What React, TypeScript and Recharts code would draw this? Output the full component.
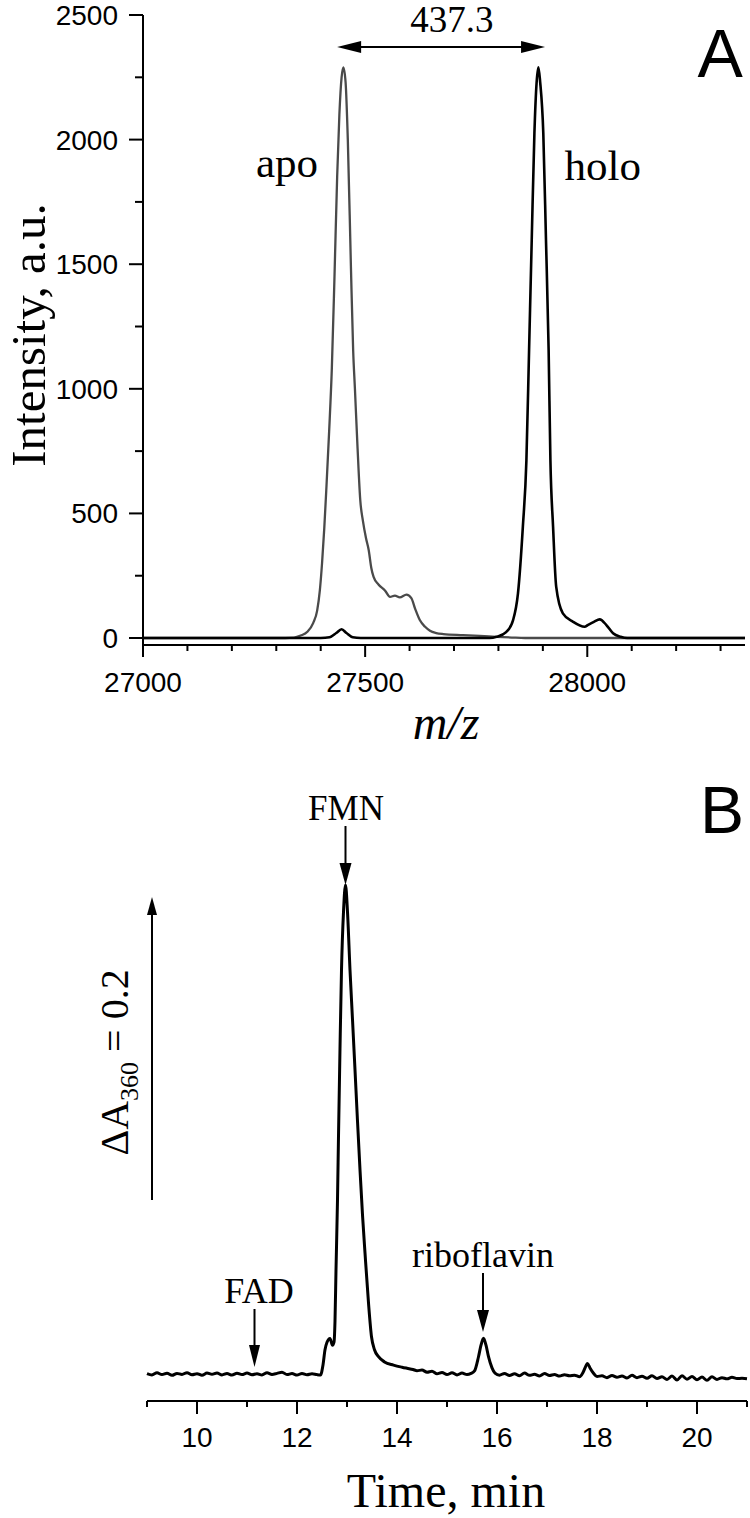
import { LineChart, Line, XAxis, YAxis, ReferenceLine, ReferenceDot } from 'recharts'

const serif = '"Liberation Serif", "Times New Roman", serif'
const sans = '"Liberation Sans", Arial, sans-serif'

// ---- Panel A: mass spectra ----
const apoMz = [27000, 27300, 27340, 27355, 27370, 27383, 27392, 27398, 27403, 27408, 27413, 27419, 27425, 27431, 27437, 27442, 27447, 27451, 27456, 27461, 27468, 27473, 27477, 27483, 27489, 27495, 27502, 27508, 27514, 27519, 27530, 27545, 27556, 27567, 27578, 27593, 27604, 27613, 27623, 27635, 27646, 27660, 27676, 27720, 27758, 27795, 27830, 27860, 28355]
const apoIntensity = [0, 0, 2, 10, 25, 60, 110, 190, 300, 440, 610, 830, 1080, 1450, 1850, 2100, 2250, 2290, 2230, 2000, 1490, 1156, 1000, 760, 554, 470, 400, 353, 280, 245, 215, 190, 165, 170, 163, 174, 160, 115, 72, 45, 29, 20, 16, 12, 9, 5, 2, 0, 0]

const holoMz = [27000, 27400, 27420, 27435, 27447, 27458, 27472, 27490, 27780, 27796, 27818, 27833, 27844, 27855, 27863, 27869, 27875, 27881, 27886, 27890, 27894, 27901, 27907, 27913, 27917, 27923, 27930, 27945, 27968, 27994, 28002, 28015, 28028, 28043, 28058, 28075, 28090, 28355]
const holoIntensity = [0, 0, 3, 20, 35, 20, 3, 0, 0, 5, 25, 72, 179, 447, 714, 1156, 1600, 2026, 2230, 2290, 2230, 2026, 1600, 1156, 714, 447, 206, 99, 65, 45, 53, 65, 75, 52, 19, 5, 0, 0]

const mzTicks = [27000, 27100, 27200, 27300, 27400, 27500, 27600, 27700, 27800, 27900, 28000, 28100, 28200, 28300]
const intensityTicks = [0, 250, 500, 750, 1000, 1250, 1500, 1750, 2000, 2250, 2500]

// ---- Panel B: HPLC trace ----
const timeMin = [9.0, 9.1, 9.2, 9.3, 9.4, 9.5, 9.6, 9.7, 9.8, 9.9, 10.0, 10.1, 10.2, 10.3, 10.4, 10.5, 10.6, 10.7, 10.8, 10.9, 11.0, 11.1, 11.2, 11.3, 11.4, 11.5, 11.6, 11.7, 11.8, 11.9, 12.0, 12.1, 12.2, 12.3, 12.4, 12.47, 12.52, 12.56, 12.6, 12.66, 12.71, 12.74, 12.76, 12.78, 12.81, 12.83, 12.86, 12.89, 12.93, 12.97, 13.01, 13.06, 13.11, 13.16, 13.21, 13.26, 13.31, 13.36, 13.43, 13.49, 13.55, 13.63, 13.75, 13.93, 14.1, 14.2, 14.32, 14.4, 14.5, 14.6, 14.7, 14.8, 14.9, 15.0, 15.1, 15.2, 15.3, 15.4, 15.48, 15.55, 15.63, 15.68, 15.73, 15.78, 15.83, 15.9, 15.96, 16.05, 16.15, 16.25, 16.35, 16.45, 16.55, 16.65, 16.75, 16.85, 16.95, 17.05, 17.15, 17.25, 17.35, 17.45, 17.55, 17.65, 17.72, 17.78, 17.81, 17.86, 17.93, 18.0, 18.1, 18.2, 18.3, 18.4, 18.5, 18.6, 18.7, 18.8, 18.9, 19.0, 19.1, 19.2, 19.3, 19.4, 19.5, 19.6, 19.7, 19.8, 19.9, 20.0, 20.1, 20.2, 20.3, 20.4, 20.5, 20.6, 20.7, 20.8, 20.9, 21.0]
const absorbance = [0.0003, -0.0006, 0.0008, -0.0004, 0.0005, -0.0009, 0.0004, -0.0003, 0.0009, -0.0005, 0.0002, -0.0008, 0.0006, -0.0002, 0.0007, -0.0006, 0.0003, -0.0007, 0.0005, -0.0004, 0.0006, -0.0005, 0.0002, -0.0006, 0.0008, -0.0003, 0.0004, 0.0012, -0.0004, 0.0003, -0.0007, 0.0004, -0.0005, 0.0002, -0.0004, -0.0006, 0.006, 0.016, 0.021, 0.0235, 0.019, 0.021, 0.035, 0.0686, 0.115, 0.157, 0.215, 0.2667, 0.305, 0.3228, 0.305, 0.2667, 0.234, 0.2007, 0.167, 0.1347, 0.105, 0.0799, 0.0469, 0.0246, 0.016, 0.0114, 0.008, 0.0059, 0.0045, 0.0038, 0.003, 0.0022, 0.0026, 0.0012, 0.0018, 0.0002, 0.001, -0.0004, 0.0008, -0.0006, 0.0006, -0.0003, 0.0004, 0.002, 0.0114, 0.019, 0.0236, 0.019, 0.0114, 0.004, 0.0005, -0.0008, 0.0004, -0.001, 0.0002, -0.0012, 0.0006, -0.0009, -0.0002, -0.0013, 0.0003, -0.001, -0.0004, -0.0014, -0.0005, -0.0012, -0.0008, -0.0018, 0.001, 0.0055, 0.007, 0.004, 0.0005, -0.0016, -0.0012, -0.0024, -0.001, -0.0022, -0.0013, -0.0026, -0.0009, -0.0024, -0.0015, -0.0028, -0.0012, -0.003, -0.0018, -0.0036, -0.0014, -0.004, -0.0012, -0.0034, -0.0016, -0.0038, -0.002, -0.0042, -0.0018, -0.0036, -0.0024, -0.0032, -0.0022, -0.003, -0.0028, -0.0031]

const timeTicks = [9, 10, 11, 12, 13, 14, 15, 16, 17, 18, 19, 20, 21]

const apoData = apoMz.map((mz, i) => ({ mz, v: apoIntensity[i] }))
const holoData = holoMz.map((mz, i) => ({ mz, v: holoIntensity[i] }))
const traceData = timeMin.map((t, i) => ({ t, a: absorbance[i] }))

// arrow drawn by ReferenceLine segments, heads as polygons
function makeArrow(opts: { start?: boolean; end?: boolean; len?: number; half?: number; extra?: (p: any) => any }) {
  const len = opts.len ?? 22
  const half = opts.half ?? 6
  return (p: any) => {
    const { x1, y1, x2, y2 } = p
    const L = Math.hypot(x2 - x1, y2 - y1) || 1
    const ux = (x2 - x1) / L
    const uy = (y2 - y1) / L
    const nx = -uy
    const ny = ux
    const head = (tx: number, ty: number, dx: number, dy: number) => {
      const bx = tx - dx * len
      const by = ty - dy * len
      return `${tx},${ty} ${bx + nx * half},${by + ny * half} ${bx - nx * half},${by - ny * half}`
    }
    const sx = opts.start ? x1 + ux * (len - 2) : x1
    const sy = opts.start ? y1 + uy * (len - 2) : y1
    const ex = opts.end ? x2 - ux * (len - 2) : x2
    const ey = opts.end ? y2 - uy * (len - 2) : y2
    return (
      <g>
        <line x1={sx} y1={sy} x2={ex} y2={ey} stroke="#000" strokeWidth={2} />
        {opts.end && <polygon points={head(x2, y2, ux, uy)} fill="#000" />}
        {opts.start && <polygon points={head(x1, y1, -ux, -uy)} fill="#000" />}
        {opts.extra && opts.extra(p)}
      </g>
    )
  }
}

const textAt = (label: string, font: string, size: number) => (p: any) => (
  <text x={p.cx} y={p.cy} textAnchor="middle" fontFamily={font} fontSize={size} fill="#000">
    {label}
  </text>
)

function MzTick(p: any) {
  const { x, y, payload } = p
  const major = payload.value % 500 === 0
  return (
    <g>
      <line x1={x} y1={y} x2={x} y2={y + (major ? 12 : 6)} stroke="#000" strokeWidth={2} />
      {major && (
        <text x={x} y={y + 47} textAnchor="middle" fontFamily={sans} fontSize={28} fill="#000">
          {payload.value}
        </text>
      )}
    </g>
  )
}

function IntensityTick(p: any) {
  const { x, y, payload } = p
  const major = payload.value % 500 === 0
  return (
    <g>
      <line x1={x} y1={y} x2={x - (major ? 14 : 8)} y2={y} stroke="#000" strokeWidth={2} />
      {major && (
        <text x={x - 25} y={y + 10} textAnchor="end" fontFamily={sans} fontSize={28} fill="#000">
          {payload.value}
        </text>
      )}
    </g>
  )
}

function TimeTick(p: any) {
  const { x, y, payload } = p
  const major = payload.value % 2 === 0
  return (
    <g>
      <line x1={x} y1={y} x2={x} y2={y + (major ? 13 : 6)} stroke="#000" strokeWidth={2} />
      {major && (
        <text x={x} y={y + 46} textAnchor="middle" fontFamily={sans} fontSize={28} fill="#000">
          {payload.value}
        </text>
      )}
    </g>
  )
}

const scaleBarLabel = (p: any) => {
  const midY = (p.y1 + p.y2) / 2
  return (
    <text transform={`translate(${p.x1 - 24}, ${midY + 14}) rotate(-90)`} textAnchor="middle" fontFamily={serif} fontSize={40} fill="#000">
      ΔA<tspan fontSize={26} dy={10}>360</tspan>
      <tspan dy={-10}>{' = 0.2'}</tspan>
    </text>
  )
}

export default function App() {
  return (
    <div style={{ position: 'absolute', left: 0, top: 0, width: 750, height: 1518, background: '#fff' }}>
      <LineChart width={750} height={760} margin={{ top: 15, right: 5, bottom: 0, left: 0 }}>
        <XAxis
          dataKey="mz"
          type="number"
          domain={[27000, 28355]}
          ticks={mzTicks}
          interval={0}
          height={115}
          tickSize={0}
          tickMargin={0}
          tickLine={false}
          tick={<MzTick />}
          axisLine={{ stroke: '#000', strokeWidth: 2 }}
          label={() => (
            <text x={446} y={739} textAnchor="middle" fontFamily={serif} fontStyle="italic" fontSize={48} fill="#000">
              m/z
            </text>
          )}
        />
        <YAxis
          type="number"
          domain={[-28, 2500]}
          ticks={intensityTicks}
          interval={0}
          width={143}
          tickSize={0}
          tickMargin={0}
          tickLine={false}
          tick={<IntensityTick />}
          axisLine={{ stroke: '#000', strokeWidth: 2 }}
          label={() => (
            <text transform="translate(45, 335) rotate(-90)" textAnchor="middle" fontFamily={serif} fontSize={49} fill="#000">
              Intensity, a.u.
            </text>
          )}
        />
        <Line data={apoData} dataKey="v" type="monotone" stroke="#4a4a4a" strokeWidth={2.3} dot={false} isAnimationActive={false} />
        <Line data={holoData} dataKey="v" type="monotone" stroke="#000" strokeWidth={2.6} dot={false} isAnimationActive={false} />
        <ReferenceLine segment={[{ x: 27437, y: 2372 }, { x: 27905, y: 2372 }]} shape={makeArrow({ start: true, end: true, len: 24, half: 6 })} />
        <ReferenceDot x={27695} y={2432} r={0} shape={textAt('437.3', serif, 37)} />
        <ReferenceDot x={27324} y={1850} r={0} shape={textAt('apo', serif, 43)} />
        <ReferenceDot x={28035} y={1838} r={0} shape={textAt('holo', serif, 43)} />
        <ReferenceDot x={28299} y={2251} r={0} shape={textAt('A', sans, 68)} />
      </LineChart>

      <LineChart width={750} height={758} margin={{ top: 15, right: 3, bottom: 0, left: 147 }}>
        <XAxis
          dataKey="t"
          type="number"
          domain={[9, 21]}
          ticks={timeTicks}
          interval={0}
          height={117}
          tickSize={0}
          tickMargin={0}
          tickLine={false}
          tick={<TimeTick />}
          axisLine={{ stroke: '#000', strokeWidth: 2 }}
          label={() => (
            <text x={446} y={747} textAnchor="middle" fontFamily={serif} fontSize={48} fill="#000">
              Time, min
            </text>
          )}
        />
        <YAxis type="number" domain={[-0.01782, 0.39538]} hide width={0} />
        <Line data={traceData} dataKey="a" type="monotone" stroke="#000" strokeWidth={3} dot={false} isAnimationActive={false} />
        <ReferenceLine segment={[{ x: 9.1, y: 0.1149 }, { x: 9.1, y: 0.3149 }]} shape={makeArrow({ end: true, len: 18, half: 5, extra: scaleBarLabel })} />
        <ReferenceLine segment={[{ x: 12.97, y: 0.3617 }, { x: 12.97, y: 0.3228 }]} shape={makeArrow({ end: true, len: 22, half: 6 })} />
        <ReferenceLine segment={[{ x: 15.72, y: 0.0667 }, { x: 15.72, y: 0.0277 }]} shape={makeArrow({ end: true, len: 22, half: 6 })} />
        <ReferenceLine segment={[{ x: 11.15, y: 0.0429 }, { x: 11.15, y: 0.0046 }]} shape={makeArrow({ end: true, len: 22, half: 5.5 })} />
        <ReferenceDot x={12.98} y={0.3657} r={0} shape={textAt('FMN', serif, 35)} />
        <ReferenceDot x={15.72} y={0.0706} r={0} shape={textAt('riboflavin', serif, 36)} />
        <ReferenceDot x={11.24} y={0.0469} r={0} shape={textAt('FAD', serif, 36)} />
        <ReferenceDot x={20.5} y={0.3571} r={0} shape={textAt('B', sans, 66)} />
      </LineChart>
    </div>
  )
}
